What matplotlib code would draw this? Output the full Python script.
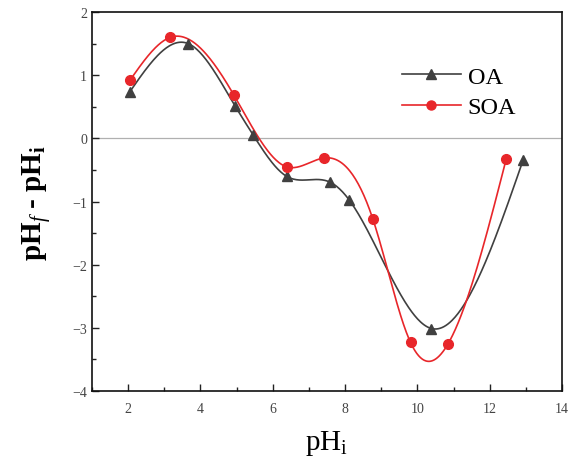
import numpy as np
import matplotlib
matplotlib.use("Agg")
import matplotlib.pyplot as plt
from matplotlib.ticker import MultipleLocator

oa_x = [2.05, 3.66, 4.95, 5.45, 6.38, 7.57, 8.12, 10.39, 12.92]
oa_y = [0.74, 1.50, 0.52, 0.06, -0.60, -0.69, -0.98, -3.01, -0.35]
soa_x = [2.05, 3.17, 4.93, 6.38, 7.43, 8.77, 9.81, 10.85, 12.46]
soa_y = [0.92, 1.60, 0.68, -0.45, -0.31, -1.28, -3.23, -3.25, -0.32]


def natural_spline(x, y, n=400):
    x = np.asarray(x, float)
    y = np.asarray(y, float)
    m = len(x)
    h = np.diff(x)
    A = np.zeros((m, m))
    b = np.zeros(m)
    A[0, 0] = 1
    A[-1, -1] = 1
    for i in range(1, m - 1):
        A[i, i - 1] = h[i - 1]
        A[i, i] = 2 * (h[i - 1] + h[i])
        A[i, i + 1] = h[i]
        b[i] = 3 * ((y[i + 1] - y[i]) / h[i] - (y[i] - y[i - 1]) / h[i - 1])
    c = np.linalg.solve(A, b)
    xs = np.linspace(x[0], x[-1], n)
    ys = np.empty_like(xs)
    for k, xv in enumerate(xs):
        i = min(np.searchsorted(x, xv, side="right") - 1, m - 2)
        i = max(i, 0)
        bi = (y[i + 1] - y[i]) / h[i] - h[i] * (2 * c[i] + c[i + 1]) / 3
        di = (c[i + 1] - c[i]) / (3 * h[i])
        dx = xv - x[i]
        ys[k] = y[i] + bi * dx + c[i] * dx ** 2 + di * dx ** 3
    return xs, ys


plt.rcParams["font.family"] = ["Liberation Serif", "DejaVu Serif"]
plt.rcParams["mathtext.fontset"] = "custom"
plt.rcParams["mathtext.rm"] = "Liberation Serif"
plt.rcParams["mathtext.it"] = "Liberation Serif:italic"
plt.rcParams["mathtext.bf"] = "Liberation Serif:bold"

fig = plt.figure(figsize=(5.8, 4.64), dpi=100)
ax = fig.add_axes([0.1586, 0.155, 0.8104, 0.817])

ax.axhline(0, color="#b0b0b0", lw=0.9, zorder=1)

c_oa = "#404040"
c_soa = "#e8262a"
sx, sy = natural_spline(oa_x, oa_y)
ax.plot(sx, sy, color=c_oa, lw=1.2, zorder=2)
ax.plot(oa_x, oa_y, ls="none", marker="^", ms=7.5, color=c_oa, zorder=3)
sx, sy = natural_spline(soa_x, soa_y)
ax.plot(sx, sy, color=c_soa, lw=1.2, zorder=2)
ax.plot(soa_x, soa_y, ls="none", marker="o", ms=7, color=c_soa, zorder=3)

h1, = ax.plot([], [], color=c_oa, lw=1.2, marker="^", ms=6.5)
h2, = ax.plot([], [], color=c_soa, lw=1.2, marker="o", ms=6.5)
ax.legend([h1, h2], ["OA", "SOA"], loc="upper left",
          bbox_to_anchor=(0.66, 0.858), frameon=False, borderpad=0,
          borderaxespad=0, fontsize=17.5, handlelength=2.4,
          handletextpad=0.3, labelspacing=0.35)

ax.set_xlim(1, 14)
ax.set_ylim(-4, 2)
ax.xaxis.set_major_locator(MultipleLocator(2))
ax.xaxis.set_minor_locator(MultipleLocator(1))
ax.yaxis.set_major_locator(MultipleLocator(1))
ax.yaxis.set_minor_locator(MultipleLocator(0.5))
ax.tick_params(which="both", direction="in", labelsize=10, color="#222222",
               labelcolor="#444444")
ax.tick_params(which="major", length=5, width=1)
ax.tick_params(which="minor", length=3, width=1)
ax.tick_params(axis="x", pad=8)
for s in ax.spines.values():
    s.set_linewidth(1.2)
    s.set_color("#111111")

ax.set_xlabel("pH$_\\mathrm{i}$", fontsize=21, labelpad=9)
ax.set_ylabel("pH$_\\mathbf{\\mathit{f}}$ - pH$_\\mathbf{i}$", fontsize=21,
              fontweight="bold", labelpad=14)

fig.savefig("out.png", dpi=100)
